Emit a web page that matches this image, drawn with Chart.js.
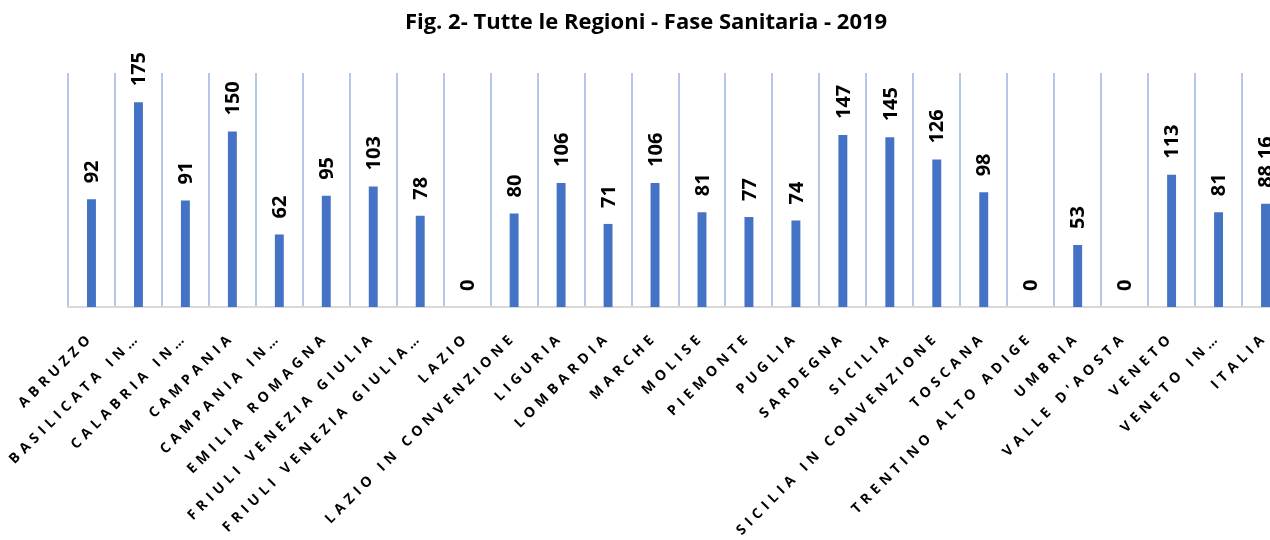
<!DOCTYPE html>
<html>
<head>
<meta charset="utf-8">
<script src="https://cdn.jsdelivr.net/npm/chart.js@4.4.1/dist/chart.umd.min.js"></script>
<style>
  html, body { margin: 0; padding: 0; background: #ffffff; overflow: hidden; width: 1270px; height: 540px; }
  #wrap { position: absolute; left: 0; top: 0; width: 1295px; height: 540px; }
</style>
</head>
<body>
<div id="wrap"><canvas id="c" width="1295" height="540"></canvas></div>
<script>
const chartTitle = "Fig. 2- Tutte le Regioni - Fase Sanitaria - 2019";
const categories = [
  "ABRUZZO", "BASILICATA IN…", "CALABRIA IN…", "CAMPANIA", "CAMPANIA IN…",
  "EMILIA ROMAGNA", "FRIULI VENEZIA GIULIA", "FRIULI VENEZIA GIULIA…", "LAZIO",
  "LAZIO IN CONVENZIONE", "LIGURIA", "LOMBARDIA", "MARCHE", "MOLISE", "PIEMONTE",
  "PUGLIA", "SARDEGNA", "SICILIA", "SICILIA IN CONVENZIONE", "TOSCANA",
  "TRENTINO ALTO ADIGE", "UMBRIA", "VALLE D'AOSTA", "VENETO", "VENETO IN…", "ITALIA"
];
const values = [92, 175, 91, 150, 62, 95, 103, 78, 0, 80, 106, 71, 106, 81, 77, 74, 147, 145, 126, 98, 0, 53, 0, 113, 81, 88.16];
const yMin = 0;
const yMax = 200;

const spacingPlugin = {
  id: 'spacing',
  beforeDraw(chart) { chart.ctx.letterSpacing = '4.8px'; },
  beforeDatasetsDraw(chart) { chart.ctx.letterSpacing = '0px'; }
};

const valueLabelPlugin = {
  id: 'valueLabels',
  afterDatasetsDraw(chart) {
    const ctx = chart.ctx;
    const meta = chart.getDatasetMeta(0);
    ctx.save();
    ctx.letterSpacing = '0px';
    ctx.font = 'bold 20px "Open Sans"';
    ctx.fillStyle = '#000000';
    ctx.textAlign = 'left';
    ctx.textBaseline = 'middle';
    meta.data.forEach((bar, i) => {
      const v = values[i];
      const txt = String(v).replace('.', ',');
      ctx.save();
      ctx.translate(bar.x + 1, bar.y - 16);
      ctx.rotate(-Math.PI / 2);
      ctx.fillText(txt, 0, 0);
      ctx.restore();
    });
    ctx.restore();
  },
  afterDraw(chart) {
    const ctx = chart.ctx;
    ctx.save();
    ctx.letterSpacing = '0px';
    ctx.font = 'bold 22px "Open Sans"';
    ctx.fillStyle = '#000000';
    ctx.textAlign = 'center';
    ctx.textBaseline = 'middle';
    ctx.fillText(chartTitle, 646, 23);
    ctx.restore();
  }
};

new Chart(document.getElementById('c'), {
  type: 'bar',
  data: {
    labels: categories,
    datasets: [{
      data: values,
      backgroundColor: '#4472C4',
      barPercentage: 0.19,
      categoryPercentage: 1.0
    }]
  },
  options: {
    responsive: false,
    animation: false,
    layout: { padding: { left: 68, right: 6, top: 73, bottom: 0 } },
    plugins: { legend: { display: false }, title: { display: false }, tooltip: { enabled: false } },
    scales: {
      x: {
        grid: { offset: true, color: '#B4C7E7', lineWidth: 2, drawTicks: false },
        border: { display: true, color: '#D9D9D9', width: 2 },
        ticks: {
          autoSkip: false,
          minRotation: 45,
          maxRotation: 45,
          padding: 22,
          labelOffset: 0,
          color: '#000000',
          font: { family: '"Open Sans"', size: 14, weight: 'bold' }
        },
        afterFit(scale) {
          scale.height = 233;
          scale.paddingLeft = 0;
          scale.paddingRight = 0;
        }
      },
      y: {
        display: false,
        min: yMin,
        max: yMax
      }
    }
  },
  plugins: [spacingPlugin, valueLabelPlugin]
});
</script>
</body>
</html>
